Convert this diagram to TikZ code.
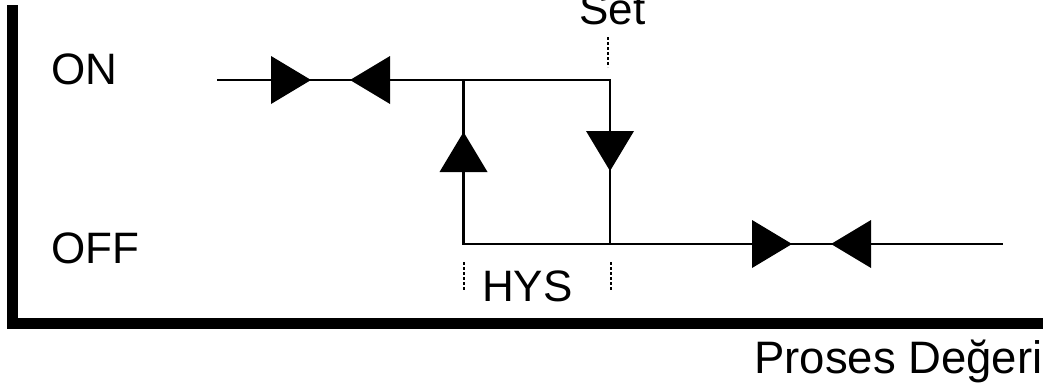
\documentclass[tikz,border=0pt]{standalone}
\usepackage{fontspec}
\setmainfont{Liberation Sans}
\begin{document}
\begin{tikzpicture}[x=1pt,y=-1pt,
  lbl/.style={font=\fontsize{44}{48}\selectfont, inner sep=0pt, anchor=base west},
  thin line/.style={line width=2.2pt},
  dash line/.style={line width=1.6pt, dash pattern=on 3pt off 2pt},
  axis/.style={line width=10.5pt, line join=miter},
  tri/.style={fill=black},
  pics/rtri/.style={code={\fill[tri] (0,-24) -- (40,0) -- (0,24) -- cycle;}},
  pics/ltri/.style={code={\fill[tri] (0,-24) -- (-40,0) -- (0,24) -- cycle;}},
  pics/utri/.style={code={\fill[tri] (-24,0) -- (0,-40) -- (24,0) -- cycle;}},
  pics/dtri/.style={code={\fill[tri] (-24,0) -- (0,40) -- (24,0) -- cycle;}},
]
\useasboundingbox (0,0) rectangle (1043,391);
\begin{scope}
\clip (0,0) rectangle (1043,391);
% axes
\coordinate (ytop) at (12.5,5);
\coordinate (origin) at (12.5,323.5);
\coordinate (xend) at (1044,323.5);
\draw[axis] (ytop) -- (origin) -- (xend);

% labels
\node[lbl] (on) at (51,84) {ON};
\node[lbl] (off) at (51,263) {OFF};
\node[lbl] (set) at (579,24) {Set};
\node[lbl] (hys) at (482,301) {HYS};
\node[lbl, font=\fontsize{45.5}{48}\selectfont] (pv) at (754,373) {Proses Değeri};

% hysteresis loop
\coordinate (onstart) at (217,80);
\coordinate (onA) at (463.5,80);
\coordinate (onB) at (610,80);
\coordinate (offA) at (463.5,244);
\coordinate (offB) at (610,244);
\coordinate (offend) at (1003,244);
\draw[thin line] (onstart) -- (onA) -- (onB) -- (offB);
\draw[thin line] (onA) -- (offA) -- (offB) -- (offend);

% arrowheads
\pic at (271,80) {rtri};
\pic at (390,80) {ltri};
\pic at (463.5,172) {utri};
\pic at (610,131) {dtri};
\pic at (752,244) {rtri};
\pic at (871,244) {ltri};

% dashed markers
\coordinate (s1) at (608,37);
\coordinate (s2) at (608,67);
\draw[dash line] (s1) -- (s2);
\coordinate (h1) at (464,262);
\coordinate (h2) at (464,291);
\draw[dash line] (h1) -- (h2);
\coordinate (h3) at (611,262);
\coordinate (h4) at (611,291);
\draw[dash line] (h3) -- (h4);
\end{scope}
\end{tikzpicture}
\end{document}
